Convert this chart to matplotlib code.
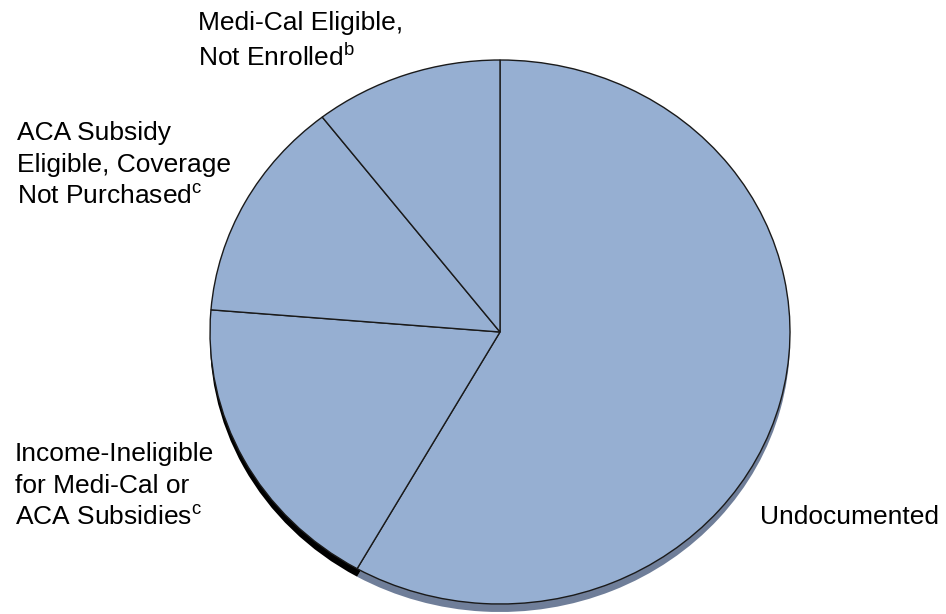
import numpy as np
from matplotlib import pyplot as plt
import matplotlib

matplotlib.rcParams.update({'font.family': 'Liberation Sans',
                            'mathtext.fontset': 'custom',
                            'mathtext.rm': 'Liberation Sans',
                            'mathtext.it': 'Liberation Sans'})

# shares of the pie, clockwise from 12 o'clock
groups = ["Undocumented", "Income-Ineligible", "ACA Subsidy Eligible", "Medi-Cal Eligible"]
shares = [58.2, 18.1, 13.2, 10.5]

labels = ["Undocumented",
          "Income-Ineligible\nfor Medi-Cal or\nACA Subsidies$^\\mathrm{c}$",
          "ACA Subsidy\nEligible, Coverage\nNot Purchased$^\\mathrm{c}$",
          "Medi-Cal Eligible,\nNot Enrolled$^\\mathrm{b}$"]
# label anchors in pixels (left, top)
label_pos = [(760, 505), (15, 442), (17, 121), (198, 11)]

face = "#96AFD2"
side = ["#6F7E99", "#000000", "#000000", "#000000"]

W, H = 946, 614
cx, cy, rx, ry = 500, 332, 290, 272
depth = 8

fig = plt.figure(figsize=(W / 100, H / 100), dpi=100)
ax = fig.add_axes([0, 0, 1, 1])

# side of the "3d" pie, drawn a bit lower under the top face
ax.pie(shares, colors=side, startangle=90, counterclock=False,
       center=(0, -depth / ry), wedgeprops=dict(linewidth=0))
ax.pie(shares, colors=[face] * 4, startangle=90, counterclock=False,
       wedgeprops=dict(edgecolor="#1a1a1a", linewidth=1.0))

ax.set_aspect("auto")
ax.set_xlim(-cx / rx, (W - cx) / rx)
ax.set_ylim(-(H - cy) / ry, cy / ry)
ax.axis("off")

for txt, (px, py) in zip(labels, label_pos):
    fig.text(px / W, 1 - py / H, txt, ha="left", va="top", fontsize=19,
             color="#000000", linespacing=1.42)

plt.savefig("out.png", dpi=100)
